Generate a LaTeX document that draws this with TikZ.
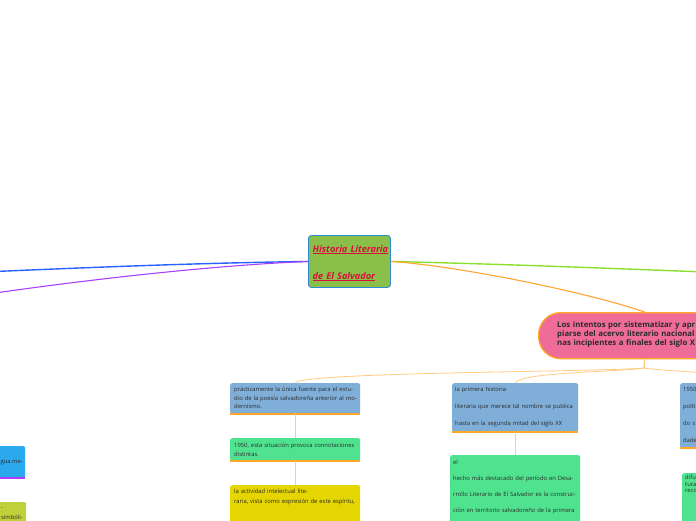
\documentclass[tikz,border=0pt]{standalone}
\usepackage{fontspec}
\setmainfont{Open Sans}
\definecolor{centerfill}{HTML}{8AC04A}
\definecolor{centerdraw}{HTML}{2E8BD6}
\definecolor{crimson}{HTML}{D8103C}
\definecolor{lineblue}{HTML}{2962FF}
\definecolor{linepurple}{HTML}{AA40FF}
\definecolor{linegreen}{HTML}{8CE02C}
\definecolor{lineorange}{HTML}{FFA532}
\definecolor{connorange}{HTML}{FFCB80}
\definecolor{barorange}{HTML}{FFA726}
\definecolor{pinkfill}{HTML}{EF6C98}
\definecolor{boxblue}{HTML}{7FAFD9}
\definecolor{boxgreen}{HTML}{50E38F}
\definecolor{boxyellow}{HTML}{E5D500}
\definecolor{boxcyan}{HTML}{2BA9EF}
\definecolor{boxlime}{HTML}{BFD13A}
\definecolor{ink}{HTML}{2B2B2B}
\newcommand{\kidfont}[1]{\fontsize{5.85}{#1}\selectfont}
\begin{document}
\begin{tikzpicture}[x=1pt,y=-1pt,
  box/.style={inner sep=0pt, anchor=north west, rounded corners=2pt},
  txt/.style={inner sep=0pt, anchor=base west, text=ink, align=left, text width=160pt},
  conn/.style={draw=connorange, line width=0.8pt},
  bar/.style={draw=barorange, line width=2pt},
  mainline/.style={line width=1.4pt}]
\useasboundingbox (0,0) rectangle (696,520);
\clip (0,0) rectangle (696,520);
\fill[white] (0,0) rectangle (696,520);

% central topic
\node[box, fill=centerfill, draw=centerdraw, line width=0.9pt, rounded corners=3pt,
  minimum width=82pt, minimum height=52pt] (center) at (308,235) {};
\node[inner sep=0pt, anchor=base west, text=crimson, align=left, text width=90pt,
  font={\fontsize{9.2}{27}\selectfont\bfseries\itshape}] (ctext) at (312.5,252)
  {\underline{Historia Literaria}\\\underline{de El Salvador}};

% pink main branch
\node[box, fill=pinkfill, draw=barorange, line width=1.3pt, rounded corners=22pt,
  minimum width=212pt, minimum height=46pt] (pink) at (538,312) {};
\node[inner sep=0pt, anchor=base west, text=ink, align=left, text width=200pt,
  font={\fontsize{7.8}{9.3}\selectfont\bfseries}] (ptext) at (557,327)
  {Los intentos por sistematizar y apr\\piarse del acervo literario nacional\\nas incipientes a finales del siglo X};

% left column
\node[box, fill=boxblue, minimum width=130pt, minimum height=31pt] (a1) at (230,383) {};
\node[txt, font={\kidfont{8.5}}] (a1t) at (234,391.5)
  {prácticamente la única fuente para el estu-\\dio de la poesía salvadoreña anterior al mo-\\dernismo.};
\node[box, fill=boxgreen, minimum width=130pt, minimum height=23pt] (a2) at (230,438) {};
\node[txt, font={\kidfont{9}}] (a2t) at (234,447)
  {1950, esta situación provoca connotaciones\\distintas.};
\node[box, fill=boxyellow, minimum width=130pt, minimum height=50pt] (a3) at (230,485) {};
\node[txt, font={\kidfont{9.5}}] (a3t) at (234,493.5)
  {la actividad intelectual lite-\\raria, vista como expresión de este espíritu,};

% middle column
\node[box, fill=boxblue, minimum width=126pt, minimum height=49pt] (b1) at (452,383) {};
\node[txt, font={\kidfont{17}}] (b1t) at (455,391)
  {la primera historia\\literaria que merece tal nombre se publica\\hasta en la segunda mitad del siglo XX};
\node[box, fill=boxgreen, minimum width=130pt, minimum height=80pt] (b2) at (450,455) {};
\node[txt, font={\kidfont{16.2}}] (b2t) at (453,464)
  {el\\hecho más destacado del período en Desa-\\rrollo Literario de El Salvador es la construc-\\ción en territorio salvadoreño de la primera};

% right column (cut by the frame)
\node[box, fill=boxblue, minimum width=130pt, minimum height=65pt] (c1) at (680,383) {};
\node[txt, font={\kidfont{17}}] (c1t) at (683,391)
  {1950\\polít\\do s\\dade};
\node[box, fill=boxgreen, minimum width=126pt, minimum height=60pt] (c2) at (682,473) {};
\node[txt, font={\kidfont{6.5}}] (c2t) at (685,479.5)
  {difu\\tura\\reco};

% left side nodes (cut by the frame)
\node[box, fill=boxcyan, minimum width=130pt, minimum height=32pt] (l1) at (-105,446) {};
\node[inner sep=0pt, anchor=base east, text=ink, font={\kidfont{8}}] (l1t) at (23,463.5) {gua me-};
\node[box, fill=boxlime, minimum width=130pt, minimum height=40pt] (l2) at (-104,502) {};
\node[inner sep=0pt, anchor=base east, text=ink, font={\kidfont{8}}] (l2a) at (3,509.5) {-};
\node[inner sep=0pt, anchor=base east, text=ink, font={\kidfont{8}}] (l2b) at (23,519.5) {simbóli-};

% bottom bars
\draw[bar] (a1.south west) -- (a1.south east);
\draw[bar] (a2.south west) -- (a2.south east);
\draw[bar] (b1.south west) -- (b1.south east);
\draw[bar] (c1.south west) -- (c1.south east);
\draw[draw=linepurple, line width=2pt] (l1.south west) -- (l1.south east);

% free ends of the main lines
\coordinate (blueend) at (-5,271.5);
\coordinate (purpleend) at (-5,293);
\coordinate (greenend) at (705,272);

% main branches
\draw[mainline, draw=lineblue] (center.west) .. controls (200,263) and (100,267) .. (blueend);
\draw[mainline, draw=linepurple, line width=1.1pt] (center.west) .. controls (220,265) and (100,278) .. (purpleend);
\draw[mainline, draw=linegreen] (center.east) .. controls (500,264) and (600,268) .. (greenend);
\draw[mainline, draw=lineorange, line width=1.1pt] (center.east) .. controls (460,266) and (590,293) .. (pink.north);

% sub connectors
\coordinate (pj) at (644,368);
\draw[conn] (pink.south) -- (pj) .. controls (600,372) and (300,372) .. (a1.north);
\draw[conn] (pink.south) -- (pj) .. controls (620,372) and (520,372) .. (b1.north);
\draw[conn] (pink.south) -- (pj) .. controls (670,372) and (740,372) .. (c1.north);
\draw[conn] (a1.south) -- (a2.north);
\draw[conn] (a2.south) -- (a3.north);
\draw[conn] (b1.south) -- (b2.north);
\draw[conn] (c1.south) -- (c2.north);
\end{tikzpicture}
\end{document}
